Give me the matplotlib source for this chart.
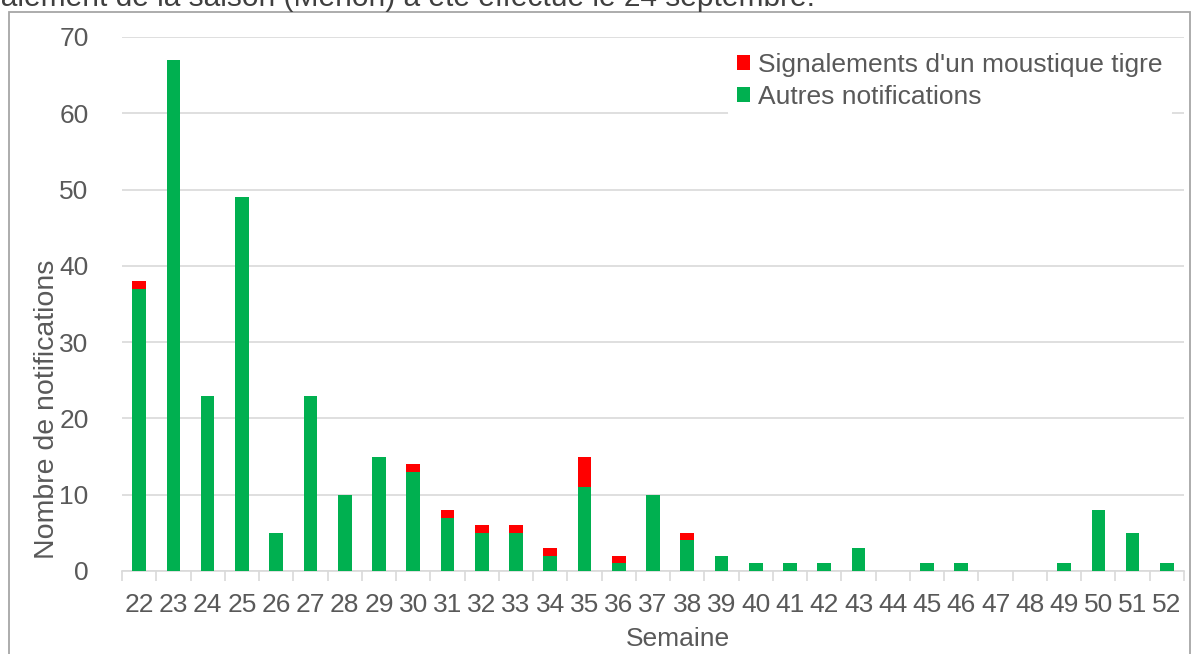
import matplotlib.pyplot as plt
import numpy as np
from matplotlib.patches import Rectangle

plt.rcParams['font.family'] = ['Liberation Sans', 'DejaVu Sans']

# semaines et nombre de notifications
semaines = list(range(22, 53))
autres = [37, 67, 23, 49, 5, 23, 10, 15, 13, 7, 5, 5, 2, 11, 1, 10, 4, 2,
          1, 1, 1, 3, 0, 1, 1, 0, 0, 1, 8, 5, 1]
tigre = [1, 0, 0, 0, 0, 0, 0, 0, 1, 1, 1, 1, 1, 4, 1, 0, 1, 0,
         0, 0, 0, 0, 0, 0, 0, 0, 0, 0, 0, 0, 0]

GREEN = '#00B050'
RED = '#FF0000'
TXT = '#595959'
GRID = '#D9D9D9'

W, H = 1198, 654
fig = plt.figure(figsize=(W / 100, H / 100), dpi=100)
ax = fig.add_axes([122 / W, 1 - 571 / H, 1062 / W, (571 - 37) / H])

x = np.arange(len(semaines))
ax.bar(x, autres, width=0.4, color=GREEN, label='Autres notifications', zorder=3)
ax.bar(x, tigre, width=0.4, bottom=autres, color=RED,
       label="Signalements d'un moustique tigre", zorder=3)

ax.set_xlim(-0.5, len(semaines) - 0.5)
ax.set_ylim(0, 70)
ax.set_yticks(range(0, 71, 10))
ax.set_xticks(x)
ax.set_xticklabels([str(s) for s in semaines])
ax.set_xticks(np.arange(-0.5, len(semaines), 1), minor=True)
ax.tick_params(axis='x', which='major', length=0, pad=16, labelsize=19, labelcolor=TXT)
ax.tick_params(axis='x', which='minor', length=7, width=1.2, color=GRID)
ax.tick_params(axis='y', length=0, pad=24, labelsize=19, labelcolor=TXT)

ax.grid(axis='y', color=GRID, linewidth=1.2, zorder=0)
for s in ['top', 'right', 'left']:
    ax.spines[s].set_visible(False)
ax.spines['bottom'].set_color(GRID)
ax.spines['bottom'].set_linewidth(1.2)

# titres des axes (places comme dans Excel, pas centres)
ax.set_xlabel('Semaine', fontsize=19, color=TXT)
ax.xaxis.label.set_verticalalignment('center')
ax.xaxis.set_label_coords((678 - 122) / 1062, (571 - 639) / 534)
ax.set_ylabel('Nombre de notifications', fontsize=20.5, color=TXT)
ax.yaxis.label.set_verticalalignment('center')
ax.yaxis.set_label_coords((47 - 122) / 1062, (571 - 409) / 534)

h, l = ax.get_legend_handles_labels()
leg = fig.legend(h[::-1], l[::-1], loc='upper left',
                 bbox_to_anchor=(728 / W, 1 - 44 / H), fontsize=19,
                 frameon=True, facecolor='white', edgecolor='none', framealpha=1,
                 handlelength=0.5, handleheight=0.5, handletextpad=0.3,
                 labelspacing=0.3, borderpad=0.35, borderaxespad=0)
for t in leg.get_texts():
    t.set_color(TXT)

# cadre du graphique
fig.patches.append(Rectangle((9 / W, -0.1), (1190 - 9) / W, 1.1 - 12 / H,
                             transform=fig.transFigure, fill=False,
                             edgecolor='#A6A6A6', linewidth=1.3))

# texte du document coupe en haut
fig.text(815 / W, 1 - 6 / H, 'ualement de la saison (Menon) a été effectué le 24 septembre.',
         fontsize=21.5, color='#404040', va='baseline', ha='right')

fig.savefig('out.png', dpi=100)
